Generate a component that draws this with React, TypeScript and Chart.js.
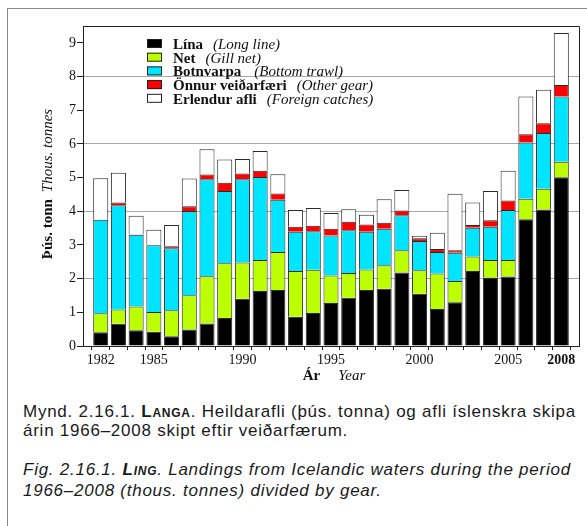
import React, { useEffect, useRef } from 'react';
import { Chart, registerables } from 'chart.js';

Chart.register(...registerables);

// ---------- data ----------
const years = [
  '1982', '1983', '1984', '1985', '1986', '1987', '1988', '1989', '1990',
  '1991', '1992', '1993', '1994', '1995', '1996', '1997', '1998', '1999',
  '2000', '2001', '2002', '2003', '2004', '2005', '2006', '2007', '2008',
];
const lina = [
  0.41, 0.66, 0.47, 0.42, 0.29, 0.49, 0.67, 0.83, 1.40,
  1.63, 1.66, 0.87, 0.98, 1.28, 1.43, 1.66, 1.70, 2.18,
  1.55, 1.10, 1.30, 2.23, 2.03, 2.06, 3.76, 4.05, 5.01,
];
const net = [
  0.56, 0.42, 0.70, 0.59, 0.77, 1.02, 1.40, 1.63, 1.08,
  0.92, 1.13, 1.36, 1.28, 0.81, 0.74, 0.61, 0.70, 0.66,
  0.70, 1.05, 0.63, 0.43, 0.52, 0.49, 0.61, 0.62, 0.46,
];
const botnvarpa = [
  2.78, 3.10, 2.13, 1.98, 1.84, 2.50, 2.88, 2.14, 2.47,
  2.47, 1.55, 1.16, 1.15, 1.19, 1.27, 1.12, 1.08, 1.04,
  0.87, 0.64, 0.84, 0.85, 0.99, 1.49, 1.67, 1.65, 1.94,
];
const onnur = [
  0.00, 0.08, 0.01, 0.00, 0.06, 0.14, 0.14, 0.25, 0.17,
  0.18, 0.19, 0.15, 0.16, 0.20, 0.25, 0.22, 0.18, 0.14,
  0.08, 0.09, 0.07, 0.08, 0.19, 0.28, 0.25, 0.29, 0.34,
];
const erlendur = [
  1.23, 0.88, 0.56, 0.46, 0.63, 0.82, 0.75, 0.69, 0.43,
  0.59, 0.57, 0.50, 0.53, 0.47, 0.37, 0.29, 0.70, 0.61,
  0.07, 0.48, 1.68, 0.67, 0.87, 0.88, 1.12, 1.00, 1.54,
];
const seriesNames = ['Lína', 'Net', 'Botnvarpa', 'Önnur veiðarfæri', 'Erlendur afli'];
const seriesNamesEn = ['(Long line)', '(Gill net)', '(Bottom trawl)', '(Other gear)', '(Foreign catches)'];
const yTickValues = [0, 1, 2, 3, 4, 5, 6, 7, 8, 9];
const xTickLabels = ['1982', '1985', '1990', '1995', '2000', '2005', '2008'];
const boldXTick = '2008';
const yTitleBold = 'Þús. tonn';
const yTitleItalic = 'Thous. tonnes';
const xTitleBold = 'Ár';
const xTitleItalic = 'Year';

// ---------- styles ----------
const COLORS = ['#000000', '#bbff00', '#00e5ff', '#ff0000', '#ffffff'];
const SERIF = '"Liberation Serif", "Times New Roman", serif';
const SANS = '"Liberation Sans", Arial, sans-serif';

const padLabels = [String(Number(years[0]) - 1), ...years, String(Number(years[years.length - 1]) + 1)];
const pad = (arr: number[]) => [null, ...arr, null];

const decorPlugin = {
  id: 'decor',
  afterDraw(chart: any) {
    const { ctx, chartArea } = chart;
    const { left, right, top, bottom } = chartArea;
    ctx.save();
    // frame top/right
    ctx.strokeStyle = '#222';
    ctx.lineWidth = 1;
    ctx.beginPath();
    ctx.moveTo(left, top + 0.5);
    ctx.lineTo(right + 0.5, top + 0.5);
    ctx.lineTo(right + 0.5, bottom);
    ctx.stroke();

    // legend
    const rowY0 = 43.5;
    const rowStep = 13.7;
    const boxX = 147;
    const textX = 173;
    for (let i = 0; i < seriesNames.length; i++) {
      const cy = rowY0 + i * rowStep;
      ctx.fillStyle = COLORS[i];
      ctx.fillRect(boxX, cy - 4.5, 15, 9);
      ctx.strokeStyle = '#222';
      ctx.strokeRect(boxX + 0.5, cy - 4.5 + 0.5, 14, 8);
      ctx.fillStyle = '#111';
      ctx.textBaseline = 'alphabetic';
      ctx.textAlign = 'left';
      ctx.font = `bold 15px ${SERIF}`;
      ctx.fillText(seriesNames[i], textX, cy + 5.5);
      const w = ctx.measureText(seriesNames[i]).width;
      ctx.font = `italic 15px ${SERIF}`;
      ctx.fillText(seriesNamesEn[i], textX + w + (i === 2 ? 13 : 10), cy + 5.5);
    }

    // y title
    ctx.fillStyle = '#111';
    ctx.font = `bold 15px ${SERIF}`;
    const wb = ctx.measureText(yTitleBold).width;
    ctx.font = `italic 15px ${SERIF}`;
    const wi = ctx.measureText(yTitleItalic).width;
    const gap = 7;
    const total = wb + gap + wi;
    ctx.save();
    ctx.translate(52, 184);
    ctx.rotate(-Math.PI / 2);
    ctx.textBaseline = 'alphabetic';
    ctx.font = `bold 15px ${SERIF}`;
    ctx.fillText(yTitleBold, -total / 2, 0);
    ctx.font = `italic 15px ${SERIF}`;
    ctx.fillText(yTitleItalic, -total / 2 + wb + gap, 0);
    ctx.restore();

    // x title
    ctx.font = `bold 15px ${SERIF}`;
    const xb = ctx.measureText(xTitleBold).width;
    ctx.font = `italic 15px ${SERIF}`;
    const xi = ctx.measureText(xTitleItalic).width;
    const xgap = 18;
    const xtot = xb + xgap + xi;
    const cx = (left + right) / 2 + 3;
    ctx.textBaseline = 'alphabetic';
    ctx.font = `bold 15px ${SERIF}`;
    ctx.fillText(xTitleBold, cx - xtot / 2, 380);
    ctx.font = `italic 15px ${SERIF}`;
    ctx.fillText(xTitleItalic, cx - xtot / 2 + xb + xgap, 380);
    ctx.restore();
  },
};

function ChartCanvas() {
  const ref = useRef<HTMLCanvasElement | null>(null);
  useEffect(() => {
    if (!ref.current) return;
    const series = [lina, net, botnvarpa, onnur, erlendur];
    const chart = new Chart(ref.current, {
      type: 'bar',
      data: {
        labels: padLabels,
        datasets: series.map((s, i) => ({
          label: seriesNames[i],
          data: pad(s),
          backgroundColor: COLORS[i],
          borderColor: '#2a2a2a',
          borderWidth: 1,
          borderSkipped: 'start',
          barPercentage: 0.85,
          categoryPercentage: 1,
        })),
      },
      options: {
        animation: false,
        responsive: false,
        devicePixelRatio: 1,
        layout: { padding: { top: 26, right: 8, left: 0, bottom: 0 } },
        plugins: { legend: { display: false }, tooltip: { enabled: false } },
        scales: {
          x: {
            type: 'category',
            stacked: true,
            offset: false,
            grid: {
              color: 'rgba(0,0,0,0)',
              drawOnChartArea: false,
              drawTicks: true,
              tickColor: '#222',
              tickLength: 4,
            },
            border: { display: true, color: '#222', width: 1 },
            ticks: {
              autoSkip: false,
              maxRotation: 0,
              minRotation: 0,
              padding: 2,
              color: '#111',
              font: (c: any) => ({
                family: SERIF,
                size: 14,
                weight: padLabels[c.index] === boldXTick ? 'bold' : 'normal',
              }),
              callback: (_v: any, idx: number) =>
                xTickLabels.includes(padLabels[idx]) ? padLabels[idx] : '',
            },
            afterFit: (s: any) => {
              s.height = 44;
            },
          },
          y: {
            stacked: true,
            min: 0,
            max: 9.5,
            grid: {
              color: (c: any) =>
                c.tick && c.tick.value > 0 && c.tick.value % 2 === 0 ? '#a8a8a8' : 'rgba(0,0,0,0)',
              lineWidth: 1,
              drawTicks: true,
              tickColor: '#222',
              tickLength: 6,
            },
            border: { display: true, color: '#222', width: 1 },
            ticks: {
              stepSize: 1,
              includeBounds: false,
              padding: 1,
              color: '#111',
              font: { family: SERIF, size: 14 },
              callback: (v: any) => (yTickValues.includes(Number(v)) ? String(v) : ''),
            },
            afterFit: (s: any) => {
              s.width = 83;
            },
          },
        },
      },
      plugins: [decorPlugin],
    } as any);
    return () => chart.destroy();
  }, []);
  return (
    <canvas
      ref={ref}
      width={587}
      height={390}
      style={{ position: 'absolute', left: 0, top: 0, width: 587, height: 390 }}
    />
  );
}

export default function App() {
  const capStyle: React.CSSProperties = {
    position: 'absolute',
    left: 23,
    width: 600,
    fontFamily: SANS,
    fontSize: 17,
    letterSpacing: '0.75px',
    whiteSpace: 'nowrap',
    color: '#1a1a1a',
    margin: 0,
  };
  return (
    <div
      style={{
        position: 'absolute',
        left: 0,
        top: 0,
        width: 587,
        height: 526,
        overflow: 'hidden',
        background: '#fff',
      }}
    >
      <div
        style={{
          position: 'absolute',
          left: 7,
          top: 8,
          width: 620,
          height: 600,
          border: '1px solid #8a8a8a',
        }}
      />
      <ChartCanvas />
      <div style={{ ...capStyle, top: 402, lineHeight: '19px' }}>
        Mynd. 2.16.1.{' '}
        <span style={{ fontVariant: 'small-caps', fontWeight: 'bold' }}>Langa</span>. Heildarafli (þús.
        tonna) og afli íslenskra skipa
        <br />
        árin 1966–2008 skipt eftir veiðarfærum.
      </div>
      <div style={{ ...capStyle, top: 459, lineHeight: '21px', fontStyle: 'italic' }}>
        Fig. 2.16.1.{' '}
        <span style={{ fontVariant: 'small-caps', fontWeight: 'bold' }}>Ling</span>. Landings from
        Icelandic waters during the period
        <br />
        1966–2008 (thous. tonnes) divided by gear.
      </div>
    </div>
  );
}
